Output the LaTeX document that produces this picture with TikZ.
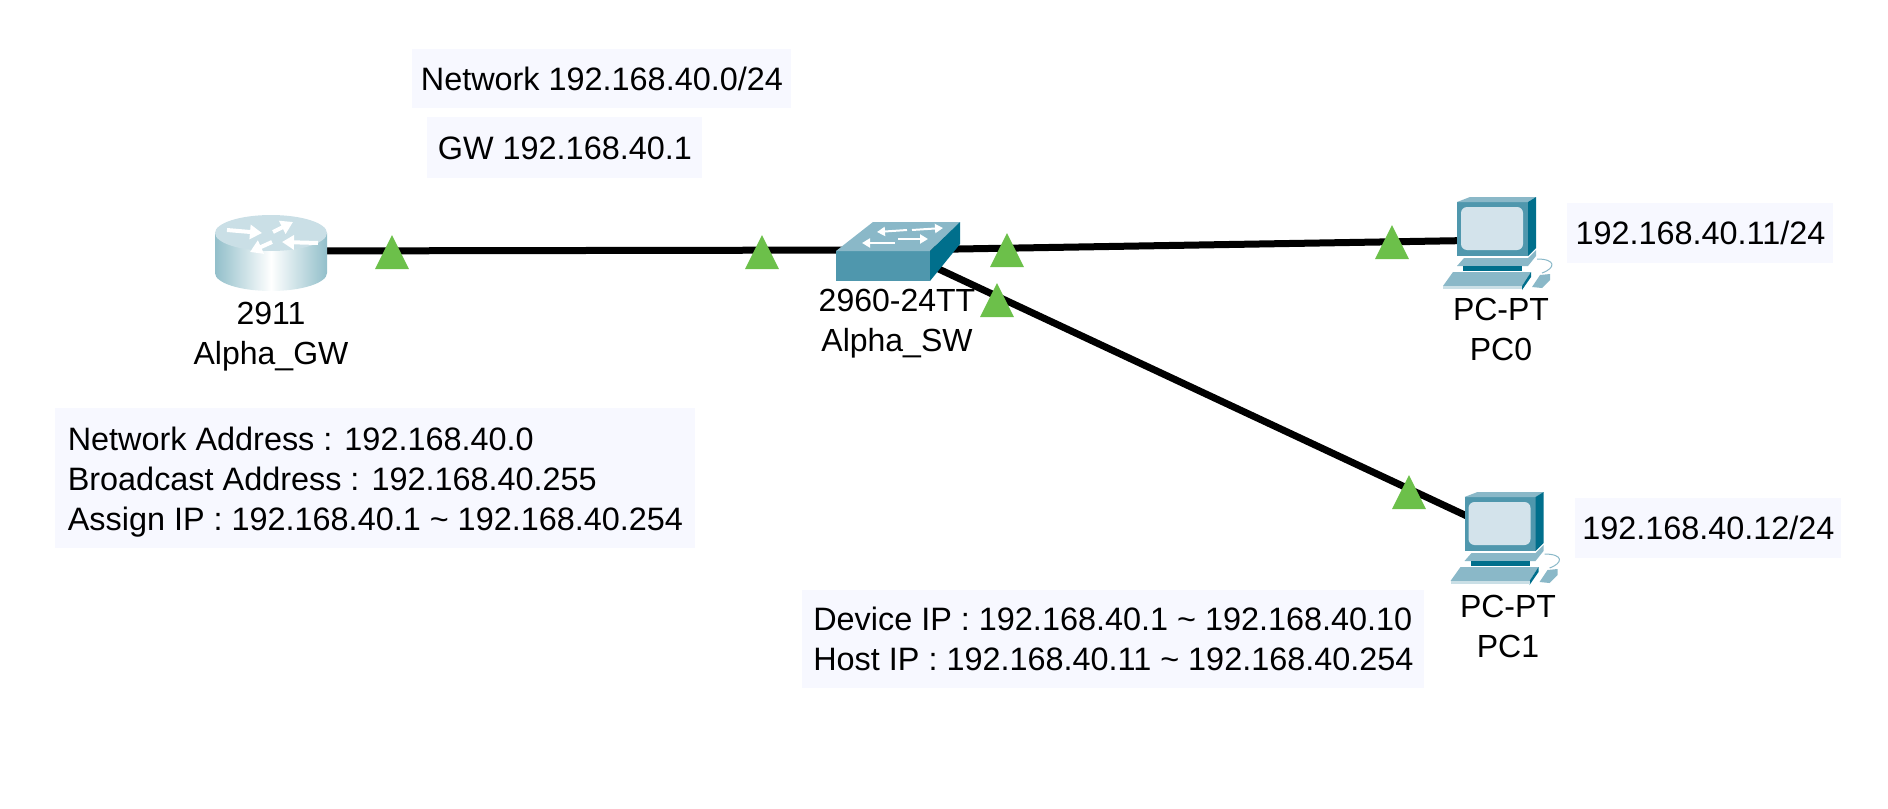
\documentclass[tikz,border=0pt]{standalone}
\usepackage{fontspec}
\setmainfont{Liberation Sans}
\usetikzlibrary{positioning,shapes.geometric,arrows.meta}
\definecolor{boxfill}{HTML}{F7F8FF}
\definecolor{trigreen}{HTML}{6CC04A}
\definecolor{swfront}{HTML}{4F97AD}
\definecolor{swtop}{HTML}{8AB8C8}
\definecolor{swside}{HTML}{006F8C}
\definecolor{rtop}{HTML}{CADFE6}
\definecolor{rside}{HTML}{92BFCA}
\definecolor{pcscreen}{HTML}{D3E3EB}
\tikzset{
    notebox/.style={fill=boxfill, anchor=north west, inner sep=0pt, font=\fontsize{16.2}{20}\selectfont, align=left},
    devlabel/.style={font=\fontsize{16}{20}\selectfont, align=center, anchor=north, inner sep=0pt},
    link/.style={line width=3.5pt, black},
    linkup/.style={isosceles triangle, isosceles triangle stretches, shape border rotate=90, draw=none, fill=trigreen, minimum width=17pt, minimum height=17pt, inner sep=0pt, anchor=apex},
    rarrow/.style={white, line width=2pt, -{Stealth[length=6pt,width=7pt,inset=0pt]}},
    swarrow/.style={white, line width=1pt, -{Stealth[length=4pt,width=4.5pt,inset=0pt]}},
    routericon/.pic={
        \shade[left color=rside, right color=rside, middle color=white] (-28,-9) -- (-28,11) arc[x radius=28, y radius=9, start angle=180, end angle=0] -- (28,-9) -- cycle;
        \fill[rtop] (0,-9) ellipse[x radius=28, y radius=9];
        % arrows on the top face
        \draw[rarrow] (-22,-10.5) -- (-4.5,-9);
        \draw[rarrow] (23.5,-4) -- (5.5,-4.5);
        \draw[rarrow] (1,-9.5) -- (11,-14.5);
        \draw[rarrow] (0.5,-4.5) -- (-10.5,0.5);
    },
    switchicon/.pic={
        \fill[swfront] (-31,0.5) rectangle (16,15.5);
        \fill[swtop] (-31,0.5) -- (-12.5,-14) -- (31,-14) -- (16,0.5) -- cycle;
        \fill[swside] (16,0.5) -- (31,-14) -- (31,-3) -- (16,15.5) -- cycle;
        \draw[swarrow] (4.5,-10) -- (-10.5,-9);
        \draw[swarrow] (7,-10) -- (22.5,-11);
        \draw[swarrow] (-1.5,-3.5) -- (-18,-3.5);
        \draw[swarrow] (0,-5.5) -- (15,-5.5);
    },
    pcicon/.pic={
        \fill[swfront] (-21.5,-19) rectangle (14,8);
        \fill[swtop] (-21.5,-19) -- (-15,-21.5) -- (18,-21.5) -- (14,-19) -- cycle;
        \fill[swside] (14,-19) -- (18,-21.5) -- (18,4) -- (14,8) -- cycle;
        \fill[pcscreen, rounded corners=3pt] (-19.5,-16.5) rectangle (11.5,5);
        % stand
        \fill[swtop] (-21.5,13) -- (-18,9) -- (14,9) -- (18,5) -- (18,8) -- (14,13) -- cycle;
        \fill[swside] (-18.5,13) rectangle (11,15.5);
        % keyboard and mouse
        \fill[swtop] (-28.5,23) -- (-23.5,16) -- (15.5,16) -- (11,23) -- cycle;
        \fill[swside] (11,23) -- (15.5,16) -- (15.5,18.5) -- (11,25) -- cycle;
        \fill[rtop] (-28.5,23) rectangle (11,24.5);
        \fill[swtop] (16,23.5) -- (20,17.5) -- (25,17) -- (25,20) -- (21,24) -- cycle;
        \draw[swtop, line width=0.5pt] (18.5,9.5) .. controls (28,9.5) and (28,14) .. (21,16.5);
    }
}
\begin{document}
\begin{tikzpicture}[x=0.5pt, y=-0.5pt]
\useasboundingbox (0,0) rectangle (1888,808);
% Devices
\coordinate (gw) at (271,251);
\coordinate (sw) at (898,250);
\coordinate (pc0) at (1500,240);
\coordinate (pc1) at (1507.5,535);
% Links
\draw[link] (gw) -- (sw);
\draw[link] (sw) -- (pc0);
\draw[link] (sw) -- (pc1);
\pic[scale=2] at (gw) {routericon};
\pic[scale=2] at (sw) {switchicon};
\pic[scale=2] at (pc0) {pcicon};
\pic[scale=2] at (pc1) {pcicon};
% Link lights
\node[linkup] (gwled) at (392,234) {};
\node[linkup] (swled) at (762,234) {};
\node[linkup] (swled0) at (1007,232) {};
\node[linkup] (swled1) at (997,282) {};
\node[linkup] (pc0led) at (1392,224) {};
\node[linkup] (pc1led) at (1409,474) {};
% Labels
\node[devlabel] (gwlabel) at (271,302) {2911\\Alpha\_GW};
\node[devlabel] (swlabel) at (897,289) {2960-24TT\\Alpha\_SW};
\node[devlabel] (pc0label) at (1501,298) {PC-PT\\PC0};
\node[devlabel] (pc1label) at (1508,595) {PC-PT\\PC1};
% Notes
\node[notebox, minimum width=189.5pt, minimum height=29.5pt] (netnote) at (412,49) {Network 192.168.40.0/24};
\node[notebox, minimum width=137.5pt, minimum height=30.5pt] (gwnote) at (427,117) {GW 192.168.40.1};
\node[notebox, minimum width=320pt, minimum height=70pt] (addrnote) at (55,408) {\rule{0pt}{15pt}Network Address : 192.168.40.0\\Broadcast Address : 192.168.40.255\\Assign IP : 192.168.40.1 \textasciitilde{} 192.168.40.254};
\node[notebox, minimum width=311pt, minimum height=49pt] (rangenote) at (802,590) {Device IP : 192.168.40.1 \textasciitilde{} 192.168.40.10\\Host IP : 192.168.40.11 \textasciitilde{} 192.168.40.254};
\node[notebox, minimum width=133pt, minimum height=30pt] (pc0note) at (1567,203) {192.168.40.11/24};
\node[notebox, minimum width=133pt, minimum height=30pt] (pc1note) at (1575,498) {192.168.40.12/24};
\end{tikzpicture}
\end{document}
